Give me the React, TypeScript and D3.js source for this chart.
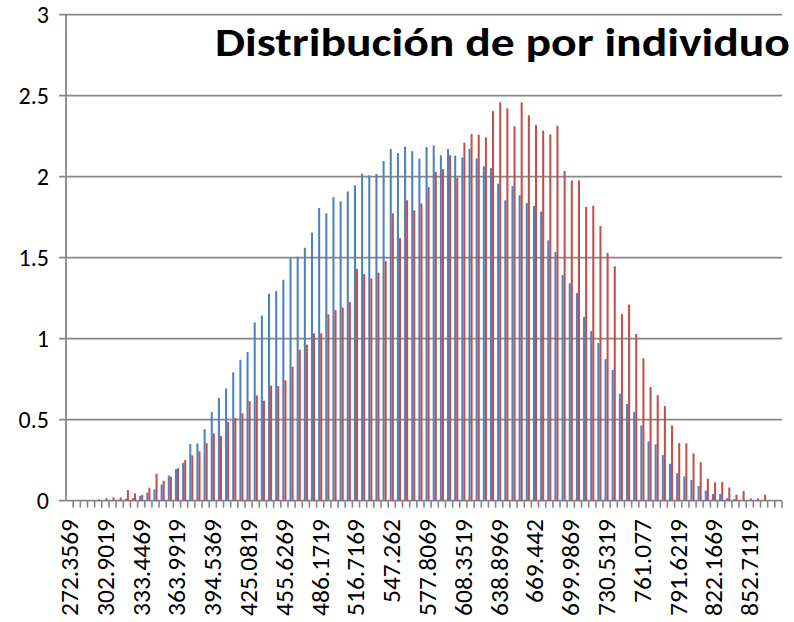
import React from "react";
import * as d3 from "d3";

const categories: string[] = d3.range(100).map((i) => String(i));
const tickLabels: string[] = [
  "272.3569", "302.9019", "333.4469", "363.9919", "394.5369", "425.0819", "455.6269",
  "486.1719", "516.7169", "547.262", "577.8069", "608.3519", "638.8969", "669.442",
  "699.9869", "730.5319", "761.077", "791.6219", "822.1669", "852.7119",
];
const yTicks: number[] = [0, 0.5, 1, 1.5, 2, 2.5, 3];
const yTickLabels: string[] = ["0", "0.5", "1", "1.5", "2", "2.5", "3"];

const seriesBlue: number[] = [
  0, 0, 0, 0, 0, 0, 0, 0.006, 0.012, 0.016,
  0.03, 0.05, 0.07, 0.1, 0.156, 0.195, 0.233, 0.35, 0.354, 0.442,
  0.547, 0.634, 0.693, 0.792, 0.87, 0.918, 1.1, 1.144, 1.278, 1.294,
  1.364, 1.496, 1.506, 1.562, 1.654, 1.807, 1.774, 1.874, 1.848, 1.909,
  1.947, 2.019, 2.008, 2.016, 2.097, 2.171, 2.146, 2.185, 2.158, 2.111,
  2.183, 2.193, 2.132, 2.171, 2.13, 2.119, 2.171, 2.113, 2.064, 2.053,
  1.957, 1.854, 1.942, 1.885, 1.837, 1.819, 1.784, 1.607, 1.535, 1.393,
  1.342, 1.282, 1.134, 1.047, 0.973, 0.874, 0.807, 0.66, 0.597, 0.547,
  0.465, 0.366, 0.348, 0.282, 0.228, 0.169, 0.15, 0.128, 0.091, 0.062,
  0.041, 0.041, 0.016, 0.01, 0.004, 0, 0, 0, 0, 0,
];
const seriesRed: number[] = [
  0, 0, 0, 0, 0.008, 0.016, 0.02, 0.02, 0.066, 0.045,
  0.035, 0.08, 0.165, 0.123, 0.148, 0.2, 0.251, 0.28, 0.305, 0.356,
  0.416, 0.4, 0.486, 0.51, 0.539, 0.615, 0.65, 0.617, 0.71, 0.708,
  0.743, 0.827, 0.932, 0.963, 1.033, 1.033, 1.15, 1.177, 1.193, 1.226,
  1.432, 1.399, 1.372, 1.407, 1.479, 1.774, 1.621, 1.854, 1.792, 1.835,
  1.936, 2.029, 2.047, 2.132, 1.994, 2.21, 2.263, 2.259, 2.243, 2.405,
  2.459, 2.422, 2.311, 2.459, 2.379, 2.319, 2.284, 2.261, 2.315, 2.035,
  1.977, 1.977, 1.813, 1.821, 1.695, 1.529, 1.447, 1.152, 1.21, 1.029,
  0.879, 0.702, 0.652, 0.584, 0.465, 0.356, 0.354, 0.292, 0.237, 0.136,
  0.113, 0.115, 0.082, 0.037, 0.06, 0.014, 0.014, 0.037, 0, 0,
];
const seriesNames: string[] = ["A", "B"];
const seriesColors: string[] = ["#4F81BD", "#C0504D"];

const W = 794;
const H = 622;
const left = 66;
const right = 782;
const top = 14.7;
const bottom = 500.7;
const font = "Carlito, Calibri, Lato, 'Liberation Sans', sans-serif";
const gridColor = "#878787";

export default function App() {
  const x = d3.scaleBand<string>().domain(categories).range([left, right]).paddingInner(0).paddingOuter(0);
  const xs = d3.scaleBand<string>().domain(seriesNames).range([0, x.bandwidth()]).paddingInner(0).paddingOuter(0.75);
  const y = d3.scaleLinear().domain([0, 3]).range([bottom, top]);
  const series = [seriesBlue, seriesRed];

  return (
    <svg width={W} height={H} style={{ position: "absolute", left: 0, top: 0, background: "#fff" }}>
      {yTicks.map((t, i) => (
        <g key={"g" + i}>
          <line x1={left - 7} x2={right} y1={y(t)} y2={y(t)} stroke={gridColor} strokeWidth={1.8} />
          <text x={49} y={y(t)} textAnchor="end" dominantBaseline="central" fontFamily={font} fontSize={24} fill="#000">
            {yTickLabels[i]}
          </text>
        </g>
      ))}
      <line x1={left} x2={left} y1={top} y2={bottom} stroke={gridColor} strokeWidth={1.8} />
      {categories.map((c, i) => (
        <line key={"t" + i} x1={x(c)! + x.bandwidth()} x2={x(c)! + x.bandwidth()} y1={bottom} y2={bottom + 7} stroke={gridColor} strokeWidth={1.6} />
      ))}
      {series.map((vals, si) =>
        categories.map((c, i) =>
          vals[i] > 0 ? (
            <rect
              key={si + "-" + i}
              x={x(c)! + xs(seriesNames[si])!}
              y={y(vals[i])}
              width={xs.bandwidth()}
              height={y(0) - y(vals[i])}
              fill={seriesColors[si]}
            />
          ) : null
        )
      )}
      {tickLabels.map((lab, k) => {
        const c = categories[k * 5];
        const cx = x(c)! + x.bandwidth() / 2;
        return (
          <text
            key={"xl" + k}
            transform={`translate(${cx},${519}) rotate(-90)`}
            textAnchor="end"
            dominantBaseline="central"
            fontFamily={font}
            fontSize={25.5}
            fill="#000"
          >
            {lab}
          </text>
        );
      })}
      <text x={215} y={56} fontFamily={font} fontSize={40} fontWeight="bold" fill="#000" textLength={575} lengthAdjust="spacingAndGlyphs">
        Distribución de por individuo
      </text>
    </svg>
  );
}
